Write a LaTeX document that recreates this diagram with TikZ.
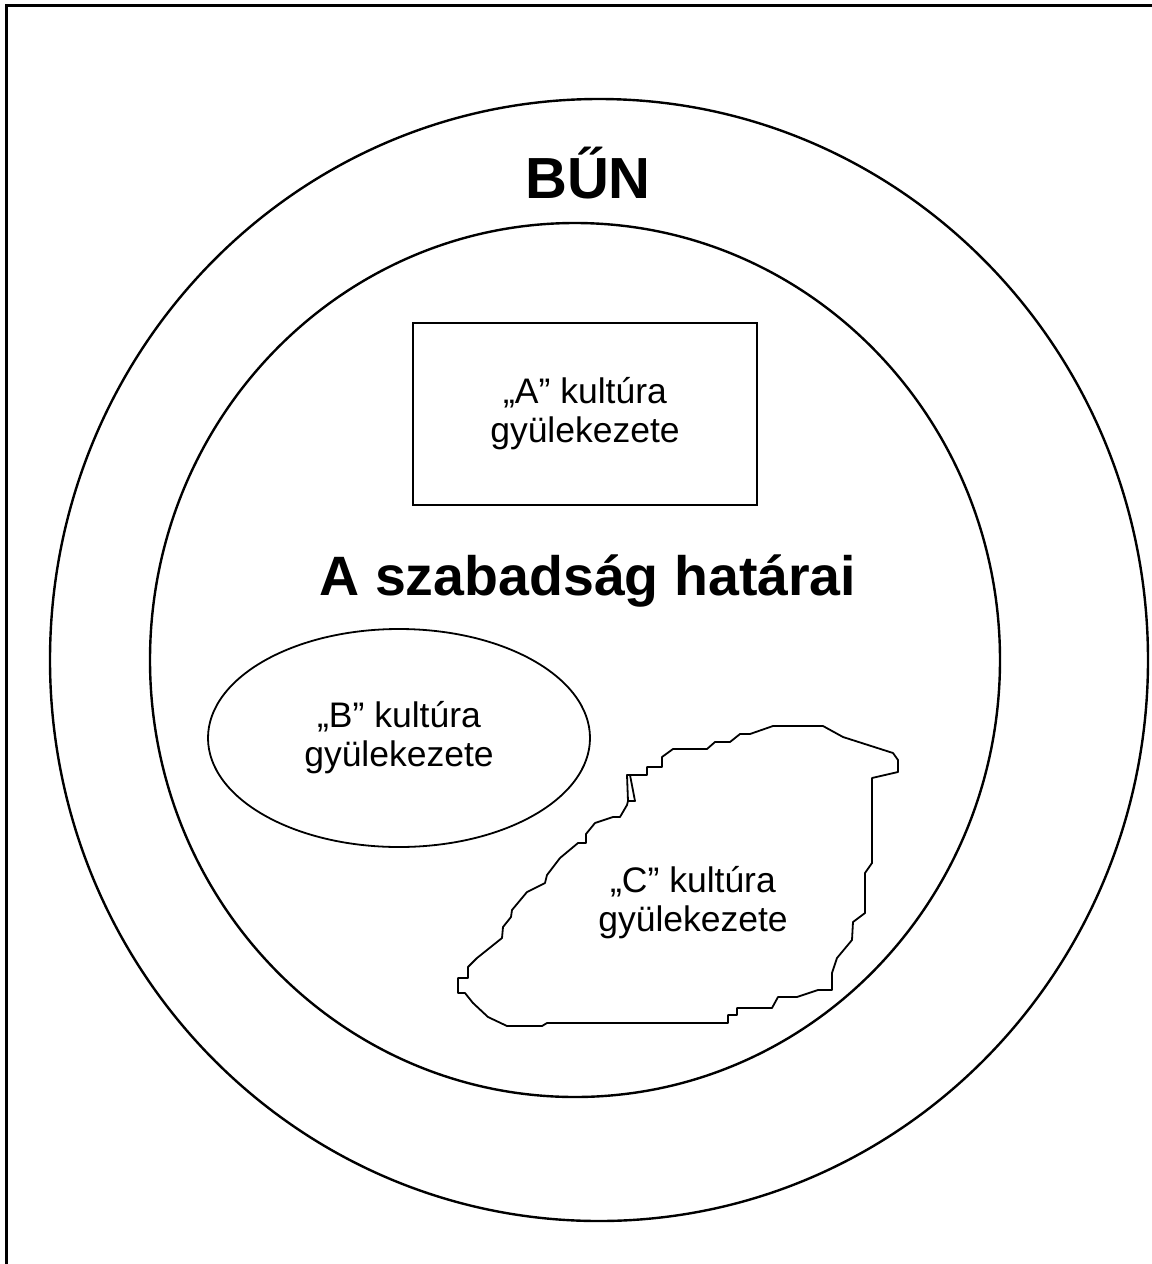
\documentclass[tikz,border=0pt]{standalone}
\usepackage{fontspec}
\setmainfont{Liberation Sans}
\usetikzlibrary{shapes.geometric}
\definecolor{frameColor}{HTML}{000000}
\definecolor{ringColorA}{HTML}{000000}
\definecolor{ringColorB}{HTML}{000000}
\definecolor{shapeColorA}{HTML}{000000}
\definecolor{shapeColorB}{HTML}{000000}
\definecolor{shapeColorC}{HTML}{000000}
\definecolor{labelTextColor}{HTML}{000000}
\def\textSin{BŰN}
\def\textLimits{A szabadság határai}
\def\textA{„A” kultúra\\gyülekezete}
\def\textB{„B” kultúra\\gyülekezete}
\def\textC{„C” kultúra\\gyülekezete}

\begin{document}
\begin{tikzpicture}[x=1bp,y=-1bp]
\useasboundingbox (0, 0) rectangle (1152, 1264);

% frame
\begin{scope}
\draw[color=frameColor, line width=3bp] (6, 1264) -- (6, 5) -- (1152, 5);
\end{scope}

% ring layer
\begin{scope}
\draw[color=ringColorA, line width=2.4bp] (599, 660) ellipse [x radius=549, y radius=561];
\draw[color=ringColorB, line width=2.4bp] (575, 660) ellipse [x radius=425, y radius=437];
\end{scope}

% title layer
\begin{scope}
\node[anchor=base, text=labelTextColor, font=\fontsize{58bp}{66bp}\selectfont\bfseries]
(sin) at (588, 198) {\textSin};
\node[anchor=base, text=labelTextColor, font=\fontsize{55.5bp}{64bp}\selectfont\bfseries]
(limits) at (588, 595) {\textLimits};
\end{scope}

% culture layer
\begin{scope}[every node/.style={align=center, text=labelTextColor,
font=\fontsize{35.5bp}{39bp}\selectfont}]
\node[draw=shapeColorA, line width=1.8bp, minimum width=344bp, minimum height=182bp]
(cultA) at (585, 414) {\textA};
\node[ellipse, draw=shapeColorB, line width=1.8bp, inner sep=0pt,
minimum width=382bp, minimum height=218bp]
(cultB) at (399, 738) {\textB};
\draw[color=shapeColorC, line width=1.8bp, line join=round]
(773, 726) -- (823, 726) -- (843, 737) -- (893, 753) -- (898, 760)
-- (898, 772) -- (872, 778) -- (872, 863) -- (865, 873) -- (865, 913)
-- (853, 922) -- (852, 940) -- (837, 958) -- (832, 973) -- (832, 990)
-- (818, 990) -- (797, 997) -- (778, 997) -- (772, 1008) -- (737, 1008)
-- (737, 1015) -- (728, 1015) -- (728, 1023) -- (547, 1023) -- (542, 1026)
-- (507, 1026) -- (488, 1017) -- (473, 1003) -- (465, 993) -- (458, 993)
-- (458, 978) -- (468, 978) -- (468, 967) -- (477, 958) -- (502, 938)
-- (503, 927) -- (511, 917) -- (512, 910) -- (527, 892) -- (545, 883)
-- (547, 875) -- (560, 858) -- (578, 843) -- (586, 843) -- (586, 834)
-- (595, 823) -- (613, 817) -- (620, 817) -- (627, 805) -- (628, 801)
-- (627, 775) -- (647, 775) -- (647, 767) -- (662, 767) -- (662, 757)
-- (673, 749) -- (707, 749) -- (715, 742) -- (730, 742) -- (740, 734)
-- (750, 734) -- cycle;
\draw[color=shapeColorC, line width=1.8bp, line join=round]
(628, 801) -- (635, 801) -- (630, 775);
\node (cultC) at (693, 903) {\textC};
\end{scope}
\end{tikzpicture}
\end{document}
